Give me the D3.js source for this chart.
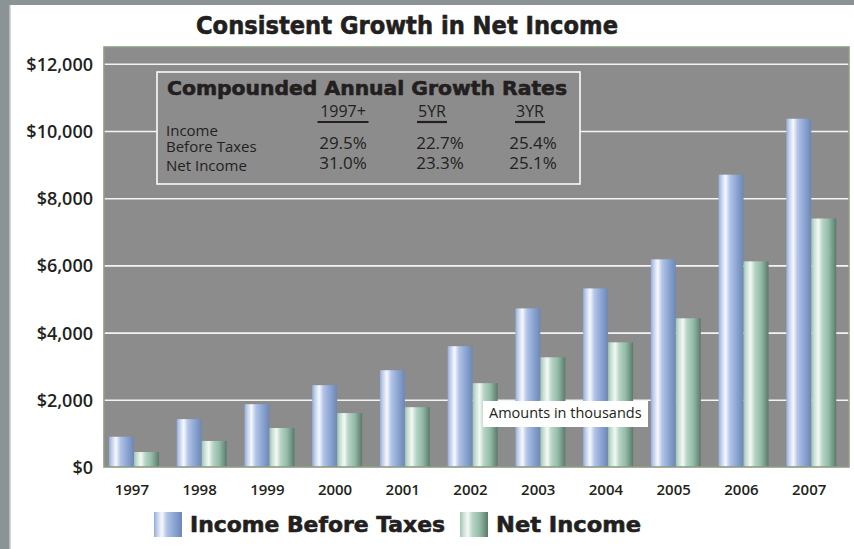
<!DOCTYPE html>
<html>
<head>
<meta charset="utf-8">
<script src="https://cdn.jsdelivr.net/npm/d3@7"></script>
<style>
  body { margin: 0; background: #fff; }
  svg { display: block; }
  .lbl { font-family: "Open Sans", "Noto Sans", sans-serif; fill: #231f20; }
  .blk { font-family: "DejaVu Sans", sans-serif; font-weight: bold; fill: #231f20; stroke: #231f20; stroke-width: 0.6px; }
</style>
</head>
<body>
<svg id="chart" width="854" height="549"></svg>
<script>
// data (amounts in thousands)
const years = ["1997", "1998", "1999", "2000", "2001", "2002", "2003", "2004", "2005", "2006", "2007"];
const incomeBeforeTaxes = [900, 1425, 1870, 2435, 2880, 3595, 4720, 5315, 6180, 8700, 10365];
const netIncome = [445, 775, 1160, 1605, 1780, 2495, 3265, 3710, 4425, 6120, 7395];
const yTicks = [0, 2000, 4000, 6000, 8000, 10000, 12000];
const seriesNames = ["Income Before Taxes", "Net Income"];

// growth rate table
const rateHeaders = ["1997+", "5YR", "3YR"];
const ratesBeforeTaxes = ["29.5%", "22.7%", "25.4%"];
const ratesNetIncome = ["31.0%", "23.3%", "25.1%"];

const width = 854, height = 549;
const plot = { left: 104, right: 849, top: 47, bottom: 467 };

const svg = d3.select("#chart");

// outer frame
svg.append("rect").attr("x", 0).attr("y", 0).attr("width", width).attr("height", 5).attr("fill", "#8b9396");
svg.append("rect").attr("x", 0).attr("y", 0).attr("width", 9).attr("height", height).attr("fill", "#8b9396");
svg.append("rect").attr("x", 9).attr("y", 5).attr("width", 1.5).attr("height", height).attr("fill", "#b3b8bb");

// gradients for the cylinder look
const defs = svg.append("defs");
function grad(id, stops) {
  const g = defs.append("linearGradient").attr("id", id)
    .attr("x1", "0%").attr("x2", "100%").attr("y1", "0%").attr("y2", "0%");
  stops.forEach(s => g.append("stop").attr("offset", s[0]).attr("stop-color", s[1]));
}
grad("gBlue", [["0%", "#94abd8"], ["12%", "#c4d2ee"], ["28%", "#f7f9fd"], ["45%", "#b3c5e8"], ["70%", "#8ea7d4"], ["100%", "#6d87b6"]]);
grad("gGreen", [["0%", "#9fc3b1"], ["12%", "#c9e0d4"], ["28%", "#f4f9f6"], ["45%", "#b6d4c5"], ["70%", "#94bba8"], ["100%", "#5a7a6a"]]);
const fills = ["url(#gBlue)", "url(#gGreen)"];

// scales
const x0 = d3.scaleBand().domain(years).range([plot.left, plot.right]);
const x1 = d3.scaleBand().domain(seriesNames).range([5, 55]);
const y = d3.scaleLinear().domain([0, 12500]).range([plot.bottom, plot.top]);

// plot background
svg.append("rect")
  .attr("x", plot.left).attr("y", plot.top)
  .attr("width", plot.right - plot.left).attr("height", plot.bottom - plot.top)
  .attr("fill", "#8c8c8c");

// gridlines
svg.append("g")
  .attr("transform", `translate(${plot.left},0)`)
  .call(d3.axisLeft(y).tickValues(yTicks.filter(d => d > 0)).tickSize(-(plot.right - plot.left)).tickFormat(""))
  .call(g => g.select(".domain").remove())
  .call(g => g.selectAll("line").attr("stroke", "#f4f4f4").attr("stroke-width", 1.6));

// y labels
svg.append("g")
  .attr("transform", `translate(${plot.left},0)`)
  .call(d3.axisLeft(y).tickValues(yTicks).tickSize(0).tickPadding(11).tickFormat(d => "$" + d3.format(",")(d)))
  .call(g => g.select(".domain").remove())
  .call(g => g.selectAll("text").attr("class", "lbl").attr("font-size", 18).attr("font-weight", 600).attr("dy", "0.36em"));

// growth-rate box
const box = svg.append("g");
box.append("rect").attr("x", 157).attr("y", 72).attr("width", 423).attr("height", 112)
  .attr("fill", "#8c8c8c").attr("stroke", "#fafafa").attr("stroke-width", 1.6);
box.append("text").attr("class", "blk").attr("x", 167).attr("y", 95)
  .attr("font-size", 19).attr("textLength", 400).attr("lengthAdjust", "spacingAndGlyphs")
  .text("Compounded Annual Growth Rates");
const colX = [343, 432, 530];
const valX = [343, 440, 533];
rateHeaders.forEach((h, i) => {
  box.append("text").attr("class", "lbl").attr("x", colX[i]).attr("y", 117)
    .attr("text-anchor", "middle").attr("font-size", 16).attr("font-weight", 500).text(h);
});
const underW = [51, 30, 30];
rateHeaders.forEach((h, i) => {
  box.append("line").attr("x1", colX[i] - underW[i] / 2).attr("x2", colX[i] + underW[i] / 2)
    .attr("y1", 122).attr("y2", 122).attr("stroke", "#231f20").attr("stroke-width", 2.2);
});
box.append("text").attr("class", "lbl").attr("x", 166).attr("y", 136).attr("font-size", 15).attr("font-weight", 500).text("Income");
box.append("text").attr("class", "lbl").attr("x", 166).attr("y", 152).attr("font-size", 15).attr("font-weight", 500).text("Before Taxes");
box.append("text").attr("class", "lbl").attr("x", 166).attr("y", 171).attr("font-size", 15).attr("font-weight", 500).text("Net Income");
ratesBeforeTaxes.forEach((v, i) => {
  box.append("text").attr("class", "lbl").attr("x", valX[i]).attr("y", 149)
    .attr("text-anchor", "middle").attr("font-size", 17).attr("font-weight", 500).text(v);
});
ratesNetIncome.forEach((v, i) => {
  box.append("text").attr("class", "lbl").attr("x", valX[i]).attr("y", 169)
    .attr("text-anchor", "middle").attr("font-size", 17).attr("font-weight", 500).text(v);
});

// bars
const rows = years.map((yr, i) => ({ year: yr, values: [incomeBeforeTaxes[i], netIncome[i]] }));
svg.append("g").selectAll("g")
  .data(rows)
  .join("g")
  .attr("transform", d => `translate(${x0(d.year)},0)`)
  .selectAll("rect")
  .data(d => d.values.map((v, k) => ({ key: seriesNames[k], value: v, k })))
  .join("rect")
  .attr("x", d => x1(d.key))
  .attr("y", d => y(d.value))
  .attr("width", x1.bandwidth())
  .attr("height", d => y(0) - y(d.value))
  .attr("fill", d => fills[d.k]);

// plot border
svg.append("rect")
  .attr("x", plot.left).attr("y", plot.top)
  .attr("width", plot.right - plot.left).attr("height", plot.bottom - plot.top)
  .attr("fill", "none").attr("stroke", "#8e9b84").attr("stroke-width", 1.6);

// x labels
svg.append("g")
  .attr("transform", `translate(-6,${plot.bottom})`)
  .call(d3.axisBottom(x0).tickSize(0).tickPadding(17))
  .call(g => g.select(".domain").remove())
  .call(g => g.selectAll("text").attr("class", "lbl").attr("font-size", 15).attr("font-weight", 600));

// note
svg.append("rect").attr("x", 483).attr("y", 401).attr("width", 165).attr("height", 26).attr("fill", "#fff");
svg.append("text").attr("class", "lbl").attr("x", 489).attr("y", 418).attr("font-size", 14.5).attr("font-weight", 500)
  .text("Amounts in thousands");

// title
svg.append("text").attr("class", "blk").attr("x", 196).attr("y", 34)
  .attr("font-size", 24).attr("textLength", 422).attr("lengthAdjust", "spacingAndGlyphs")
  .text("Consistent Growth in Net Income");

// legend
const legX = [154, 460];
const legW = [255, 145];
const legend = svg.append("g");
seriesNames.forEach((s, i) => {
  legend.append("rect").attr("x", legX[i]).attr("y", 512).attr("width", 28).attr("height", 25).attr("fill", fills[i]);
  legend.append("text").attr("class", "blk").attr("x", legX[i] + 36).attr("y", 532)
    .attr("font-size", 21).attr("textLength", legW[i]).attr("lengthAdjust", "spacingAndGlyphs").text(s);
});
</script>
</body>
</html>
